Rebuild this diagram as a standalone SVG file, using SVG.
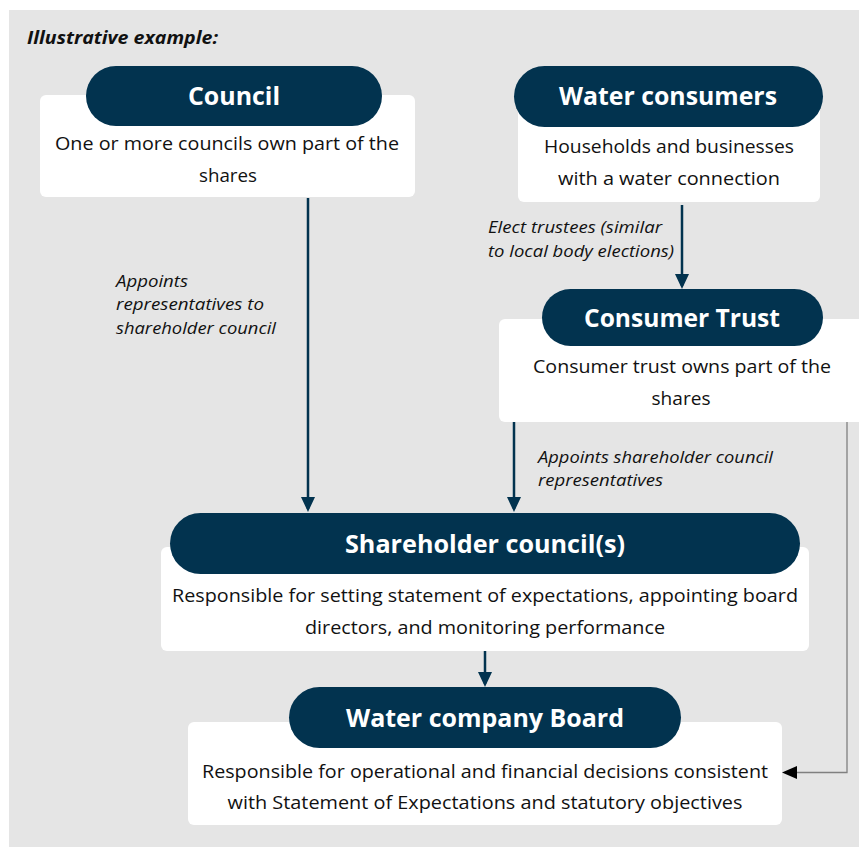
<svg xmlns="http://www.w3.org/2000/svg" width="859" height="847" viewBox="0 0 859 847">
  <style>
    .panel { fill: #e5e5e5; }
    .card { fill: #ffffff; }
    .pill { fill: #02334f; }
    .title { font-family: "Open Sans", "Noto Sans", sans-serif; font-weight: 700; font-size: 25px; fill: #ffffff; text-anchor: middle; }
    .body { font-family: "Open Sans", "Noto Sans", sans-serif; font-size: 19px; fill: #111111; text-anchor: middle; }
    .note { font-family: "Open Sans", "Noto Sans", sans-serif; font-style: italic; font-size: 16.5px; fill: #111111; }
    .heading { font-family: "Open Sans", "Noto Sans", sans-serif; font-style: italic; font-weight: 700; font-size: 17.5px; fill: #111111; }
    .flow { stroke: #02334f; stroke-width: 2.5; fill: none; marker-end: url(#navyHead); }
    .side { stroke: #808080; stroke-width: 1.3; fill: none; marker-end: url(#blackHead); }
  </style>
  <defs>
    <!-- navy downward arrowheads; the line stops 3px short of the tip -->
    <marker id="navyHead" markerUnits="userSpaceOnUse" markerWidth="15" markerHeight="14" refX="12" refY="7" orient="auto" viewBox="0 0 15 14">
      <path d="M0,0 L15,7 L0,14 Z" fill="#02334f"/>
    </marker>
    <marker id="blackHead" markerUnits="userSpaceOnUse" markerWidth="15" markerHeight="13" refX="12" refY="6.5" orient="auto" viewBox="0 0 15 13">
      <path d="M0,0 L15,6.5 L0,13 Z" fill="#000000"/>
    </marker>
  </defs>

  <rect class="panel" x="9" y="10" width="850" height="837"/>
  <text class="heading" x="27" y="44" textLength="191" lengthAdjust="spacingAndGlyphs">Illustrative example:</text>

  <g id="connectors">
    <line class="flow" x1="308" y1="198" x2="308" y2="509"/>
    <line class="flow" x1="682" y1="205" x2="682" y2="286"/>
    <line class="flow" x1="514" y1="422" x2="514" y2="509"/>
    <line class="flow" x1="485" y1="651" x2="485" y2="684"/>
    <polyline class="side" points="847,422 847,772.5 785,772.5"/>
    <text class="note" x="116" y="287" textLength="72" lengthAdjust="spacingAndGlyphs">Appoints</text>
    <text class="note" x="116" y="310" textLength="148" lengthAdjust="spacingAndGlyphs">representatives to</text>
    <text class="note" x="116" y="334" textLength="160" lengthAdjust="spacingAndGlyphs">shareholder council</text>
    <text class="note" x="488" y="233" textLength="174" lengthAdjust="spacingAndGlyphs">Elect trustees (similar</text>
    <text class="note" x="488" y="257" textLength="186" lengthAdjust="spacingAndGlyphs">to local body elections)</text>
    <text class="note" x="538" y="463" textLength="235" lengthAdjust="spacingAndGlyphs">Appoints shareholder council</text>
    <text class="note" x="538" y="486" textLength="125" lengthAdjust="spacingAndGlyphs">representatives</text>
  </g>

  <g id="council">
    <rect class="card" x="40" y="95" width="375" height="102" rx="6"/>
    <rect class="pill" x="86" y="66" width="296" height="60" rx="30"/>
    <text class="title" x="234" y="105" textLength="92" lengthAdjust="spacingAndGlyphs">Council</text>
    <text class="body" x="227" y="150" textLength="344" lengthAdjust="spacingAndGlyphs">One or more councils own part of the</text>
    <text class="body" x="228" y="182" textLength="58" lengthAdjust="spacingAndGlyphs">shares</text>
  </g>

  <g id="water-consumers">
    <rect class="card" x="518" y="100" width="302" height="102" rx="6"/>
    <rect class="pill" x="514" y="66" width="309" height="61" rx="30.5"/>
    <text class="title" x="668" y="105" textLength="218" lengthAdjust="spacingAndGlyphs">Water consumers</text>
    <text class="body" x="669" y="153" textLength="250" lengthAdjust="spacingAndGlyphs">Households and businesses</text>
    <text class="body" x="669" y="185" textLength="222" lengthAdjust="spacingAndGlyphs">with a water connection</text>
  </g>

  <g id="consumer-trust">
    <rect class="card" x="499" y="319" width="370" height="103" rx="6"/>
    <rect class="pill" x="542" y="289" width="281" height="57" rx="28.5"/>
    <text class="title" x="682" y="327" textLength="196" lengthAdjust="spacingAndGlyphs">Consumer Trust</text>
    <text class="body" x="682" y="373" textLength="298" lengthAdjust="spacingAndGlyphs">Consumer trust owns part of the</text>
    <text class="body" x="681" y="405" textLength="59" lengthAdjust="spacingAndGlyphs">shares</text>
  </g>

  <g id="shareholder-council">
    <rect class="card" x="161" y="547" width="648" height="104" rx="6"/>
    <rect class="pill" x="170" y="513" width="630" height="61" rx="30.5"/>
    <text class="title" x="485" y="553" textLength="280" lengthAdjust="spacingAndGlyphs">Shareholder council(s)</text>
    <text class="body" x="485" y="602" textLength="626" lengthAdjust="spacingAndGlyphs">Responsible for setting statement of expectations, appointing board</text>
    <text class="body" x="485" y="634" textLength="360" lengthAdjust="spacingAndGlyphs">directors, and monitoring performance</text>
  </g>

  <g id="water-company-board">
    <rect class="card" x="188" y="722" width="594" height="103" rx="6"/>
    <rect class="pill" x="289" y="687" width="392" height="61" rx="30.5"/>
    <text class="title" x="485" y="727" textLength="278" lengthAdjust="spacingAndGlyphs">Water company Board</text>
    <text class="body" x="485" y="778" textLength="566" lengthAdjust="spacingAndGlyphs">Responsible for operational and financial decisions consistent</text>
    <text class="body" x="485" y="809" textLength="515" lengthAdjust="spacingAndGlyphs">with Statement of Expectations and statutory objectives</text>
  </g>
</svg>
